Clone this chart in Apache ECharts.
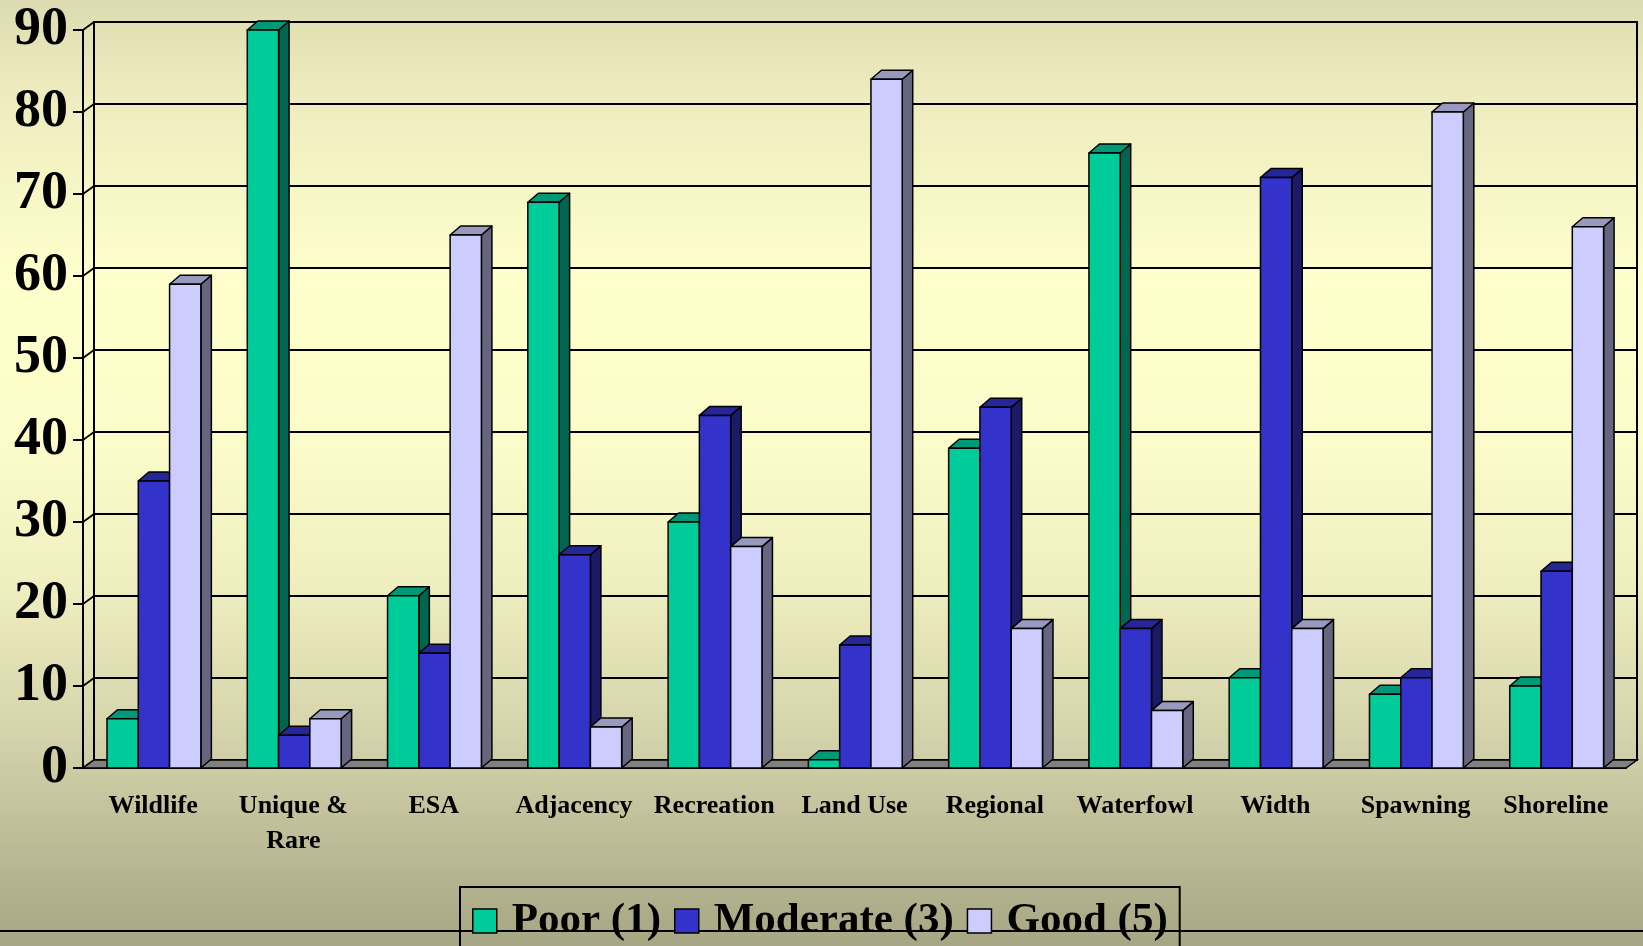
<!DOCTYPE html>
<html><head><meta charset="utf-8">
<script src="https://cdn.jsdelivr.net/npm/echarts@6/dist/echarts.min.js"></script>
<style>html,body{margin:0;padding:0;overflow:hidden}#c{width:1643px;height:946px}</style>
</head><body><div id="c"></div>
<script>
const categories = ['Wildlife','Unique &\nRare','ESA','Adjacency','Recreation','Land Use','Regional','Waterfowl','Width','Spawning','Shoreline'];
const poor = [6, 90, 21, 69, 30, 1, 39, 75, 11, 9, 10];
const moderate = [35, 4, 14, 26, 43, 15, 44, 17, 72, 11, 24];
const good = [59, 6, 65, 5, 27, 84, 17, 7, 17, 80, 66];
const seriesNames = ['Poor (1)', 'Moderate (3)', 'Good (5)'];
const yTicks = [0, 10, 20, 30, 40, 50, 60, 70, 80, 90];

const FONT = "'Liberation Serif','Times New Roman',serif";
const BAR_FRAC = 0.223, BAR_SHIFT = 0.8, BDX = 10.5, BDY = 9;
const WDX = 11, WDY = 8;
const palette = [
  {front:'#00CC99', top:'#009977', side:'#006650'},
  {front:'#3333CC', top:'#262699', side:'#1A1A66'},
  {front:'#CCCCFF', top:'#9999BF', side:'#666680'}
];

function barSeries(idx, name, values) {
  const c = palette[idx];
  return {
    type: 'custom', name: name, xAxisIndex: 0, yAxisIndex: 0,
    itemStyle: {color: c.front},
    data: values.map((v, i) => [i, v]),
    encode: {x: 0, y: 1},
    renderItem: function (params, api) {
      const ci = api.value(0), v = api.value(1);
      const b = api.coord([ci, 0]), t = api.coord([ci, v]);
      const band = api.size([1, 0])[0];
      const w = band * BAR_FRAC;
      const x0 = b[0] - 1.5 * w + idx * w + BAR_SHIFT, x1 = x0 + w;
      const y0 = b[1], y1 = t[1];
      const ls = {stroke: '#000', lineWidth: 1.5, lineJoin: 'round'};
      return {type: 'group', children: [
        {type: 'polygon', shape: {points: [[x1, y0], [x1 + BDX, y0 - BDY], [x1 + BDX, y1 - BDY], [x1, y1]]}, style: Object.assign({fill: c.side}, ls)},
        {type: 'polygon', shape: {points: [[x0, y1], [x1, y1], [x1 + BDX, y1 - BDY], [x0 + BDX, y1 - BDY]]}, style: Object.assign({fill: c.top}, ls)},
        {type: 'rect', shape: {x: x0, y: y1, width: w, height: y0 - y1}, style: Object.assign({fill: c.front}, ls)}
      ]};
    }
  };
}

const chart = echarts.init(document.getElementById('c'));
chart.setOption({
  animation: false,
  backgroundColor: {type: 'linear', x: 0, y: 0, x2: 0, y2: 1, colorStops: [
    {offset: 0, color: '#dddbb1'},
    {offset: 0.10, color: '#eeecbf'},
    {offset: 0.30, color: '#ffffcc'},
    {offset: 0.47, color: '#fcfcca'},
    {offset: 0.62, color: '#efeebf'},
    {offset: 0.78, color: '#d4d2aa'},
    {offset: 0.88, color: '#bfbe99'},
    {offset: 1, color: '#a7a684'}
  ]},
  graphic: [{type: 'line', z: 0, shape: {x1: 0, y1: 931, x2: 1643, y2: 931}, style: {stroke: '#000', lineWidth: 2}}],
  grid: [
    {left: 83, top: 30, width: 1543, height: 738},
    {left: 94, top: 22, width: 1543, height: 738, show: true, borderColor: '#000', borderWidth: 2, backgroundColor: 'transparent'}
  ],
  xAxis: [
    {gridIndex: 0, type: 'category', data: categories,
      axisLine: {lineStyle: {color: '#000', width: 2}},
      axisTick: {length: 11, lineStyle: {color: '#000', width: 2}},
      axisLabel: {interval: 0, margin: 21, color: '#000', fontFamily: FONT, fontWeight: 'bold', fontSize: 26, lineHeight: 35},
      splitLine: {show: false}},
    {gridIndex: 1, type: 'category', data: categories, show: false}
  ],
  yAxis: [
    {gridIndex: 0, type: 'value', min: 0, max: 90, interval: 10,
      axisLine: {show: true, lineStyle: {color: '#000', width: 2}},
      axisTick: {show: true, length: 10, lineStyle: {color: '#000', width: 2}},
      axisLabel: {margin: 15, color: '#000', fontFamily: FONT, fontWeight: 'bold', fontSize: 54},
      splitLine: {show: false}},
    {gridIndex: 1, type: 'value', min: 0, max: 90, interval: 10,
      axisLine: {show: false}, axisTick: {show: false}, axisLabel: {show: false},
      splitLine: {show: true, lineStyle: {color: '#000', width: 1.8}}}
  ],
  legend: {
    left: 460, top: 887, orient: 'horizontal',
    padding: [10, 12, 30, 12],
    borderColor: '#000', borderWidth: 2,
    itemWidth: 24, itemHeight: 24, itemGap: 13,
    textStyle: {fontFamily: FONT, fontWeight: 'bold', fontSize: 43, lineHeight: 48, color: '#000', padding: [0, 0, 0, 10]},
    data: seriesNames.map((n, i) => ({name: n, icon: 'rect', itemStyle: {color: palette[i].front, borderColor: '#000', borderWidth: 1.5}}))
  },
  series: [
    {type: 'custom', name: 'wall', xAxisIndex: 0, yAxisIndex: 0, silent: true,
      data: yTicks.map(v => [0, v]), encode: {x: 0, y: 1},
      renderItem: function (params, api) {
        const p = api.coord([0, api.value(1)]);
        const band = api.size([1, 0])[0];
        const xl = p[0] - band / 2;
        return {type: 'line', shape: {x1: xl, y1: p[1], x2: xl + WDX, y2: p[1] - WDY}, style: {stroke: '#000', lineWidth: 1.8}};
      }},
    {type: 'custom', name: 'floor', xAxisIndex: 0, yAxisIndex: 0, silent: true,
      data: [[0, 0]], encode: {x: 0, y: 1},
      renderItem: function (params, api) {
        const a = api.coord([0, 0]);
        const band = api.size([1, 0])[0];
        const e = api.coord([categories.length - 1, 0]);
        const xl = a[0] - band / 2, xr = e[0] + band / 2, y = a[1];
        return {type: 'polygon', shape: {points: [[xl, y], [xr, y], [xr + WDX, y - WDY], [xl + WDX, y - WDY]]}, style: {fill: '#808080', stroke: '#000', lineWidth: 1.5}};
      }},
    barSeries(0, seriesNames[0], poor),
    barSeries(1, seriesNames[1], moderate),
    barSeries(2, seriesNames[2], good)
  ]
});
</script></body></html>
